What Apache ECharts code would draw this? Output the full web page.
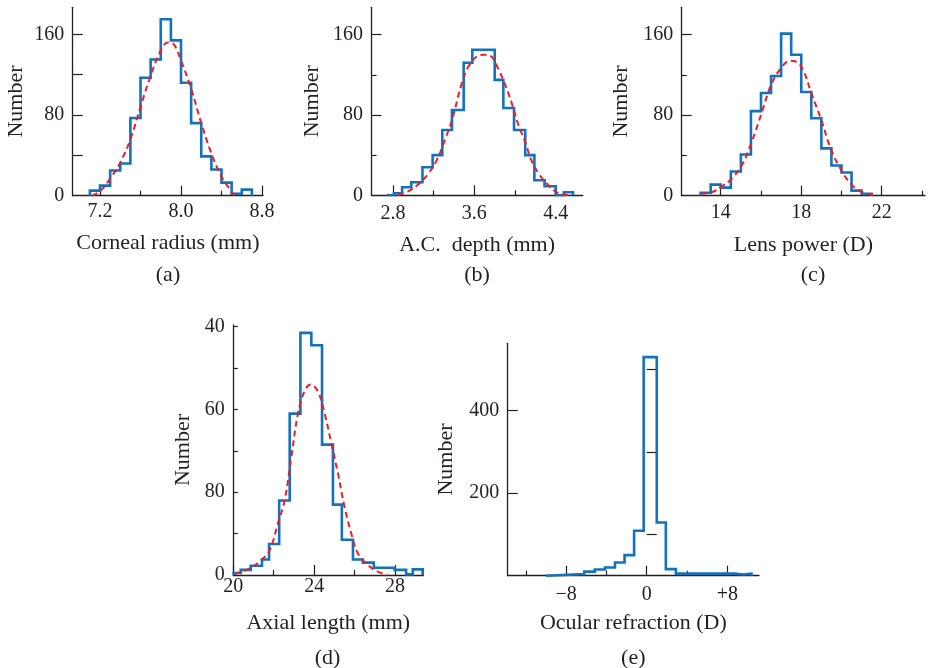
<!DOCTYPE html>
<html>
<head>
<meta charset="utf-8">
<script src="https://cdn.jsdelivr.net/npm/echarts@6/dist/echarts.min.js"></script>
<style>
  html, body { margin: 0; padding: 0; background: #fff; }
  #container { width: 929px; height: 668px; }
</style>
</head>
<body>
<div id="container"></div>
<script>
// ---- data ----
// (a) corneal radius, bins of 0.1 mm
const aEdges = [7.1, 7.2, 7.3, 7.4, 7.5, 7.6, 7.7, 7.8, 7.9, 8.0, 8.1, 8.2, 8.3, 8.4, 8.5, 8.6, 8.7];
const aCounts = [5, 10, 25, 32, 77, 117, 135, 175, 154, 112, 72, 39, 26, 13, 2, 6];
const aFitX = [7.12, 7.2, 7.3, 7.4, 7.5, 7.6, 7.7, 7.8, 7.87, 7.93, 8.0, 8.1, 8.2, 8.3, 8.4, 8.5, 8.53];
const aFitY = [0, 4.5, 17, 33, 56, 88, 119, 144, 152, 150, 134, 106, 72, 42, 19, 4, 0];

// (b) A.C. depth
const bEdges = [2.74, 2.81, 2.89, 2.98, 3.09, 3.19, 3.285, 3.38, 3.495, 3.58, 3.69, 3.80, 3.885, 3.99, 4.10, 4.19, 4.29, 4.40, 4.48, 4.57];
const bCounts = [0, 2, 8, 13, 28, 40, 65, 85, 132, 145, 145, 115, 87, 65, 40, 15, 9, 0, 3];
const bFitX = [2.85, 2.95, 3.05, 3.15, 3.23, 3.31, 3.38, 3.475, 3.54, 3.62, 3.695, 3.77, 3.835, 3.90, 3.97, 4.03, 4.10, 4.16, 4.23, 4.31, 4.41, 4.52];
const bFitY = [0, 4, 11, 22, 35, 55, 75, 111, 128, 138, 140, 138, 126, 111, 91, 71, 53, 35, 22, 12, 3, 0];

// (c) lens power, bins of 0.5 D
const cEdges = [13, 13.5, 14, 14.5, 15, 15.5, 16, 16.5, 17, 17.5, 18, 18.5, 19, 19.5, 20, 20.5, 21, 21.5];
const cCounts = [3, 11, 8, 24, 41, 84, 102, 119, 161, 140, 103, 77, 47, 30, 23, 5, 2];
const cFitX = [13.02, 13.55, 14.05, 14.54, 15.04, 15.53, 16.03, 16.5, 17.0, 17.43, 17.76, 18.09, 18.5, 19.0, 19.5, 20.0, 20.5, 21.0, 21.64];
const cFitY = [2, 3.4, 9, 17, 30, 53, 82, 110, 127, 134, 133, 125, 102, 75, 45, 25, 11, 4, 0];

// (d) axial length
const dEdges = [20.02, 20.37, 20.86, 21.42, 21.77, 22.27, 22.79, 23.32, 23.86, 24.39, 24.93, 25.37, 25.92, 26.41, 26.95, 27.98, 28.55, 28.88, 29.37];
const dCounts = [1, 2.5, 4.5, 7.5, 15, 36, 78, 117, 111, 63, 34, 17, 7.5, 6, 3.5, 2.5, 0.3, 2.7];
const dFitX = [20.07, 20.81, 21.39, 21.8, 22.21, 22.54, 22.87, 23.2, 23.53, 23.83, 24.19, 24.52, 24.85, 25.18, 25.5, 25.84, 26.16, 26.66, 27.15, 27.64];
const dFitY = [0.5, 3.2, 7.3, 12, 25, 36, 57, 78, 89, 92, 88.6, 78, 63.6, 49, 33, 20, 10.5, 4.8, 1.6, 0];

// (e) ocular refraction
const eEdges = [-10.0, -6.2, -5.15, -4.15, -3.15, -2.2, -1.25, -0.3, 1.0, 1.9, 2.9, 8.75, 9.6, 10.4];
const eCounts = [4, 10, 15, 20, 32, 50, 109, 530, 129, 16, 5, 3, 5];

// tick values and labels
const aXTicks = [7.2, 8.0, 8.8], aXLabels = ['7.2', '8.0', '8.8'], aXMinor = [7.6, 8.4];
const bXTicks = [2.8, 3.6, 4.4], bXLabels = ['2.8', '3.6', '4.4'], bXMinor = [3.2, 4.0];
const cXTicks = [14, 18, 22], cXLabels = ['14', '18', '22'], cXMinor = [16, 20, 24];
const dXTicks = [20, 24, 28], dXLabels = ['20', '24', '28'], dXMinor = [22, 26];
const eXTicks = [-8, 0, 8], eXLabels = ['\u22128', '0', '+8'], eXMinor = [-12, -4, 4];
const abcYTicks = [0, 80, 160], abcYLabels = ['0', '80', '160'], abcYMinor = [40, 120];
const dYTicks = [0, 40, 80, 120], dYLabels = ['0', '80', '60', '40'], dYMinor = [20, 60, 100];
const eYTicks = [200, 400], eYLabels = ['200', '400'], eYMinor = [100, 300, 500];

const FONT = '"Liberation Serif", "DejaVu Serif", serif';
const INK = '#231f20';
const BLUE = '#1372bd';
const RED = '#ee1d25';

const panels = [
  { tag: '(a)', tagX: 168, tagY: 275, name: 'Corneal radius (mm)',
    left: 72.7, top: 7.3, width: 190.3, height: 188.4,
    xMin: 6.93, xMax: 8.81, yMin: 0, yMax: 186.8,
    xTicks: aXTicks, xLabels: aXLabels, xMinor: aXMinor,
    yTicks: abcYTicks, yLabels: abcYLabels, yMinor: abcYMinor,
    yMajorLen: 10, yMinorLen: 10, xLabelMargin: 6.5, xNameGap: 36.6, yNameGap: 45,
    edges: aEdges, counts: aCounts, fitX: aFitX, fitY: aFitY },
  { tag: '(b)', tagX: 477, tagY: 275, name: 'A.C.  depth (mm)',
    left: 371.5, top: 7.3, width: 211.2, height: 188,
    xMin: 2.589, xMax: 4.665, yMin: 0, yMax: 187.3,
    xTicks: bXTicks, xLabels: bXLabels, xMinor: bXMinor,
    yTicks: abcYTicks, yLabels: abcYLabels, yMinor: abcYMinor,
    yMajorLen: 10, yMinorLen: 5, xLabelMargin: 8, xNameGap: 38.7, yNameGap: 47.8,
    edges: bEdges, counts: bCounts, fitX: bFitX, fitY: bFitY },
  { tag: '(c)', tagX: 813, tagY: 275, name: 'Lens power (D)',
    left: 681.7, top: 7.3, width: 243.3, height: 188.4,
    xMin: 12.06, xMax: 24.15, yMin: 0, yMax: 187.2,
    xTicks: cXTicks, xLabels: cXLabels, xMinor: cXMinor,
    yTicks: abcYTicks, yLabels: abcYLabels, yMinor: abcYMinor,
    yMajorLen: 10, yMinorLen: 5, xLabelMargin: 7.5, xNameGap: 38.3, yNameGap: 49.7,
    edges: cEdges, counts: cCounts, fitX: cFitX, fitY: cFitY },
  { tag: '(d)', tagX: 327.5, tagY: 658.5, name: 'Axial length (mm)',
    left: 233.3, top: 325, width: 190, height: 250,
    xMin: 20, xMax: 29.4, yMin: 0, yMax: 120.8,
    xTicks: dXTicks, xLabels: dXLabels, xMinor: dXMinor,
    yTicks: dYTicks, yLabels: dYLabels, yMinor: dYMinor,
    yMajorLen: 4.5, yMinorLen: 4.5, xLabelMargin: 1.5, xNameGap: 37.3, yNameGap: 39,
    edges: dEdges, counts: dCounts, fitX: dFitX, fitY: dFitY },
  { tag: '(e)', tagX: 633.3, tagY: 658.5, name: 'Ocular refraction (D)',
    left: 507.7, top: 343.3, width: 251.3, height: 232.4,
    xMin: -13.8, xMax: 11.15, yMin: 0, yMax: 563.4,
    xTicks: eXTicks, xLabels: eXLabels, xMinor: eXMinor,
    yTicks: eYTicks, yLabels: eYLabels, yMinor: eYMinor,
    yMajorLen: 10, yMinorLen: 10, xLabelMargin: 9, xNameGap: 36.6, yNameGap: 50,
    edges: eEdges, counts: eCounts, fitX: null, fitY: null }
];

function stepData(edges, counts) {
  const pts = [[edges[0], 0]];
  counts.forEach((c, i) => pts.push([edges[i], c]));
  pts.push([edges[edges.length - 1], 0]);
  return pts;
}

function lookup(ticks, labels) {
  return function (v) {
    for (let i = 0; i < ticks.length; i++) {
      if (Math.abs(ticks[i] - v) < 1e-6) return labels[i];
    }
    return '';
  };
}

const labelStyle = { color: INK, fontFamily: FONT, fontSize: 20 };
const nameStyle = { color: INK, fontFamily: FONT, fontSize: 22 };

let grid = [], xAxis = [], yAxis = [], series = [], graphic = [];

panels.forEach(function (p, k) {
  grid.push({ left: p.left, top: p.top, width: p.width, height: p.height, outerBoundsMode: 'none' });

  // main x axis: line, labelled ticks, name
  xAxis.push({
    gridIndex: k, type: 'value', position: 'bottom', min: p.xMin, max: p.xMax,
    axisLine: { show: true, onZero: false, lineStyle: { color: INK, width: 1.3 } },
    axisTick: { show: true, inside: true, length: 10, customValues: p.xTicks, lineStyle: { color: INK, width: 1.2 } },
    axisLabel: Object.assign({ show: true, customValues: p.xTicks, formatter: lookup(p.xTicks, p.xLabels), margin: p.xLabelMargin }, labelStyle),
    splitLine: { show: false },
    name: p.name, nameLocation: 'middle', nameGap: p.xNameGap, nameTextStyle: nameStyle
  });
  // second x axis only for the short unlabelled ticks
  xAxis.push({
    gridIndex: k, type: 'value', position: 'bottom', min: p.xMin, max: p.xMax,
    axisLine: { show: false },
    axisTick: { show: true, inside: true, length: 5, customValues: p.xMinor, lineStyle: { color: INK, width: 1.2 } },
    axisLabel: { show: false },
    splitLine: { show: false }
  });

  yAxis.push({
    gridIndex: k, type: 'value', position: 'left', min: p.yMin, max: p.yMax,
    axisLine: { show: true, onZero: false, lineStyle: { color: INK, width: 1.3 } },
    axisTick: { show: true, inside: true, length: p.yMajorLen, customValues: p.yTicks.filter(v => v !== 0), lineStyle: { color: INK, width: 1.2 } },
    axisLabel: Object.assign({ show: true, customValues: p.yTicks, formatter: lookup(p.yTicks, p.yLabels), margin: 8.5 }, labelStyle),
    splitLine: { show: false },
    name: 'Number', nameLocation: 'middle', nameGap: p.yNameGap, nameTextStyle: nameStyle
  });
  yAxis.push({
    gridIndex: k, type: 'value', position: 'left', min: p.yMin, max: p.yMax,
    axisLine: { show: false },
    axisTick: { show: true, inside: true, length: p.yMinorLen, customValues: p.yMinor, lineStyle: { color: INK, width: 1.2 } },
    axisLabel: { show: false },
    splitLine: { show: false }
  });

  series.push({
    type: 'line', xAxisIndex: 2 * k, yAxisIndex: 2 * k,
    step: 'end', showSymbol: false, symbol: 'none', silent: true, z: 2,
    lineStyle: { color: BLUE, width: 2.6, join: 'miter' },
    data: stepData(p.edges, p.counts)
  });
  if (p.fitX) {
    series.push({
      type: 'line', xAxisIndex: 2 * k, yAxisIndex: 2 * k,
      smooth: 0.4, showSymbol: false, symbol: 'none', silent: true, z: 3,
      lineStyle: { color: RED, width: 2, type: [6, 4] },
      data: p.fitX.map((x, i) => [x, p.fitY[i]])
    });
  }

  graphic.push({
    type: 'text', x: p.tagX, y: p.tagY, silent: true,
    style: { text: p.tag, fill: INK, font: '22px ' + FONT, align: 'center', verticalAlign: 'middle' }
  });
});

const chart = echarts.init(document.getElementById('container'), null, { renderer: 'canvas' });
chart.setOption({
  animation: false,
  backgroundColor: '#ffffff',
  grid: grid,
  xAxis: xAxis,
  yAxis: yAxis,
  series: series,
  graphic: graphic
});
</script>
</body>
</html>
